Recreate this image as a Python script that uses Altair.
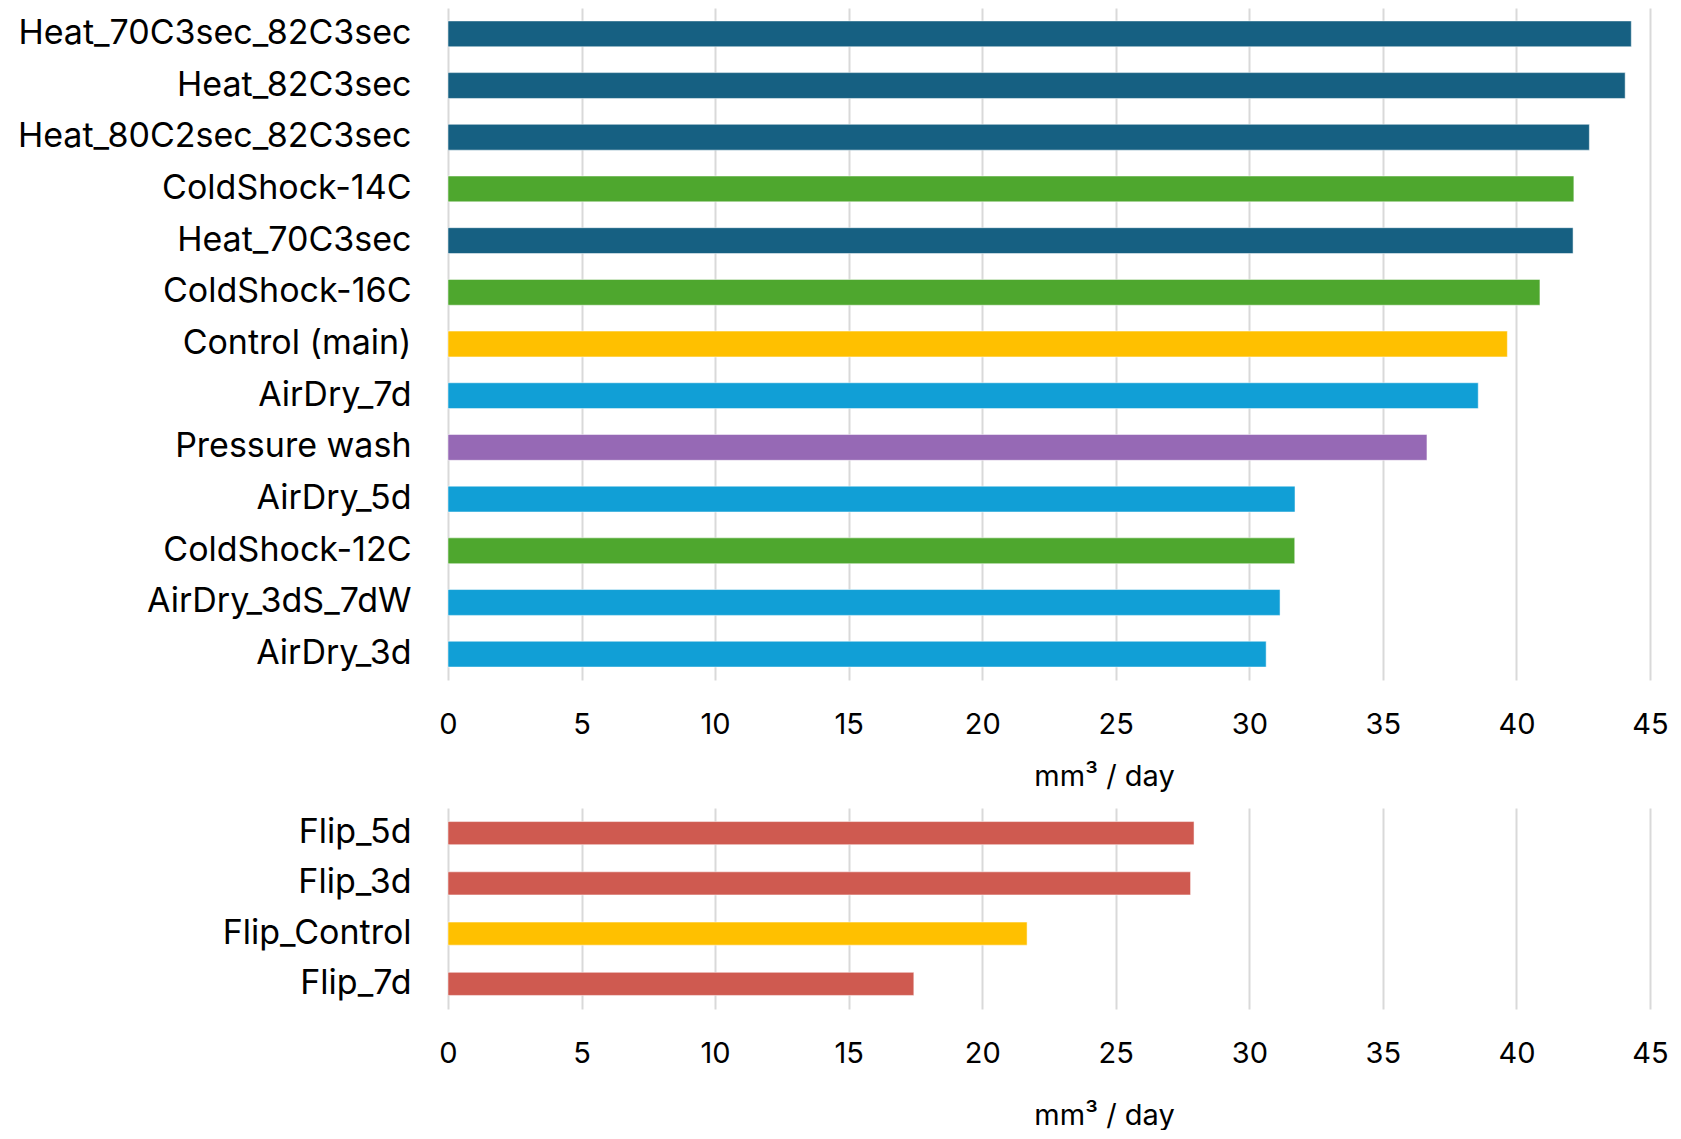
import altair as alt
import pandas as pd

top_names = ["Heat_70C3sec_82C3sec", "Heat_82C3sec", "Heat_80C2sec_82C3sec", "ColdShock-14C",
             "Heat_70C3sec", "ColdShock-16C", "Control (main)", "AirDry_7d", "Pressure wash",
             "AirDry_5d", "ColdShock-12C", "AirDry_3dS_7dW", "AirDry_3d"]
top_values = [44.3, 44.07, 42.73, 42.15, 42.12, 40.88, 39.66, 38.57, 36.65, 31.71, 31.7, 31.15, 30.63]
top_groups = ["Heat", "Heat", "Heat", "ColdShock", "Heat", "ColdShock", "Control", "AirDry",
              "Pressure", "AirDry", "ColdShock", "AirDry", "AirDry"]

bottom_names = ["Flip_5d", "Flip_3d", "Flip_Control", "Flip_7d"]
bottom_values = [27.93, 27.8, 21.68, 17.44]
bottom_groups = ["Flip", "Flip", "Control", "Flip"]

group_domain = ["Heat", "ColdShock", "Control", "AirDry", "Pressure", "Flip"]
group_colors = ["#166082", "#4EA72E", "#FFC000", "#119FD6", "#9669B5", "#CF5A50"]

tick_values = [0, 5, 10, 15, 20, 25, 30, 35, 40, 45]
x_title = "mm³ / day"

FONT = "Inter"

top_df = pd.DataFrame({"name": top_names, "value": top_values, "group": top_groups})
bot_df = pd.DataFrame({"name": bottom_names, "value": bottom_values, "group": bottom_groups})

color_enc = alt.Color("group:N", scale=alt.Scale(domain=group_domain, range=group_colors), legend=None)


def make(df, names, height, pad_inner, pad_outer, title_y):
    return alt.Chart(df).mark_bar(stroke="#ffffff", strokeOpacity=0.5, strokeWidth=1).encode(
        x=alt.X("value:Q", scale=alt.Scale(domain=[0, 45], nice=False),
                axis=alt.Axis(values=tick_values, grid=True, gridColor="#D9D9D9", gridWidth=2,
                              domain=False, ticks=False, labelFontSize=29, labelPadding=30,
                              labelColor="#000000", labelFont=FONT, labelFlush=False,
                              labelOverlap=False,
                              title=x_title, titleFont=FONT, titleFontSize=29,
                              titleFontWeight="normal", titleColor="#000000",
                              titleX=656, titleY=title_y, titleBaseline="middle")),
        y=alt.Y("name:N", sort=names,
                scale=alt.Scale(paddingInner=pad_inner, paddingOuter=pad_outer),
                axis=alt.Axis(title=None, domain=False, ticks=False, grid=False,
                              labelFontSize=34, labelPadding=37, labelColor="#000000",
                              labelFont=FONT, labelLimit=0, minExtent=440, maxExtent=440)),
        color=color_enc,
    ).properties(width=1202, height=height)


top = make(top_df, top_names, 672, 0.5, 0.25, 96)
bottom = make(bot_df, bottom_names, 201, 0.54, 0.27, 106)

chart = alt.vconcat(top, bottom, spacing=17).properties(padding=0).configure_view(stroke=None)

chart.save("out.html", embed_options={"renderer": "svg", "actions": False})
